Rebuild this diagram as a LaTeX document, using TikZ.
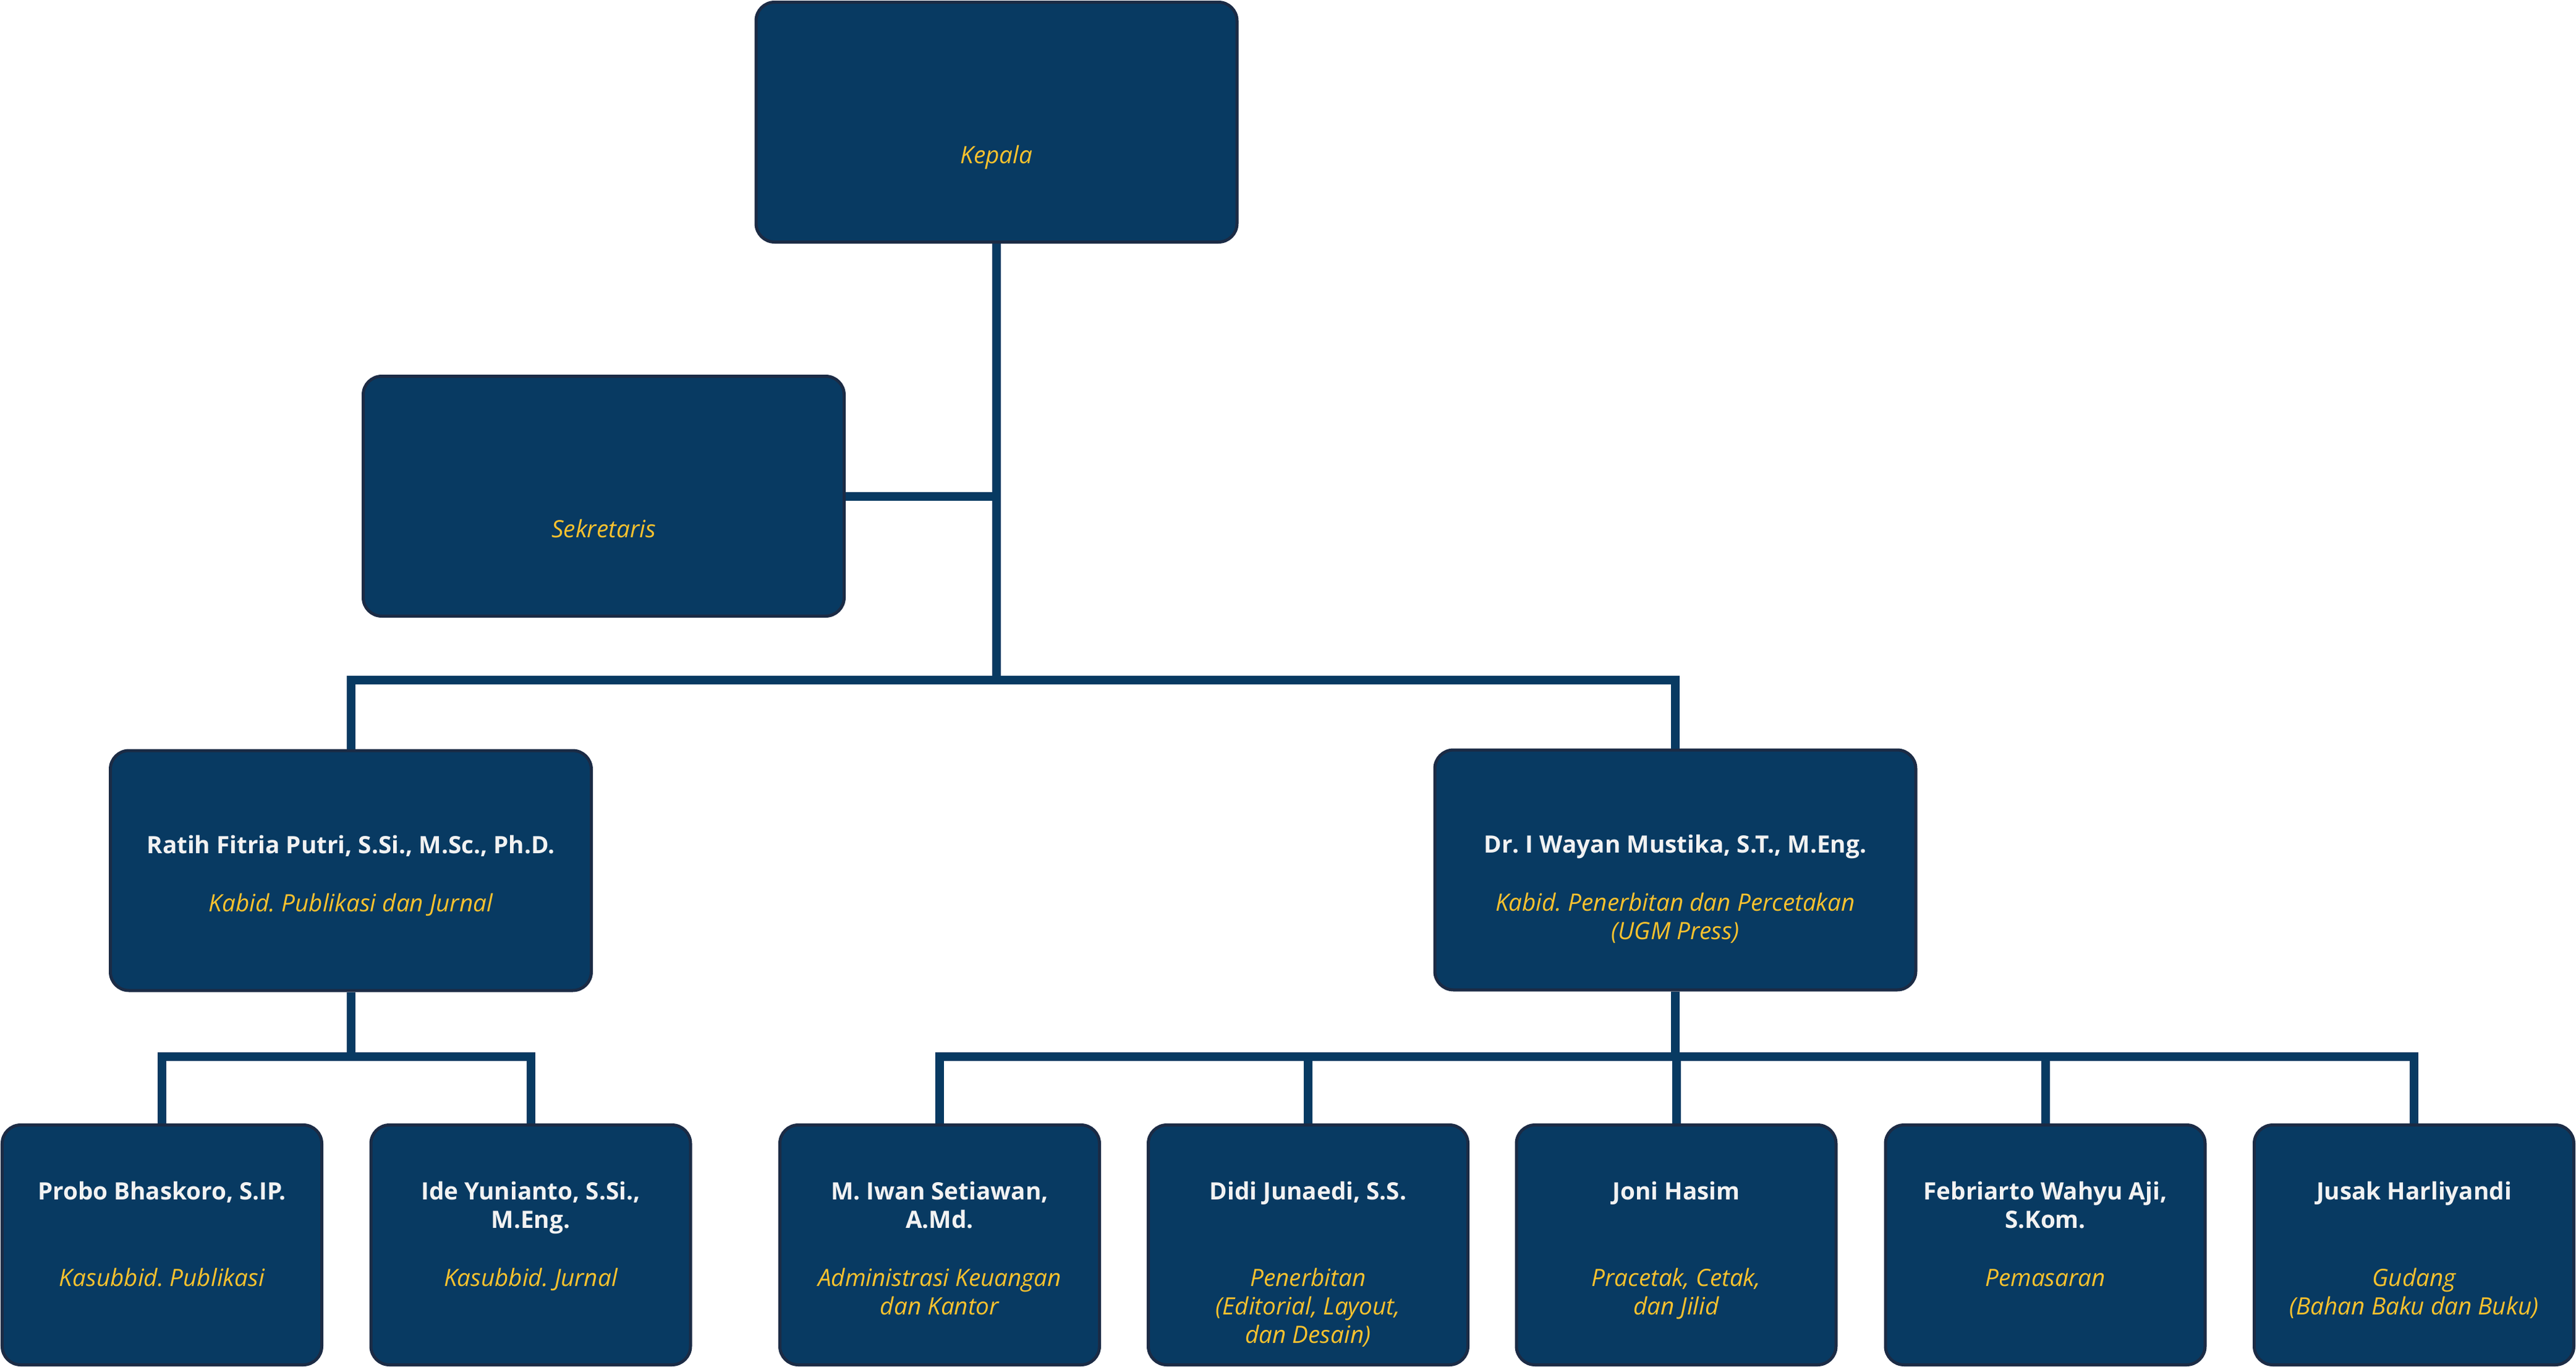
\documentclass[tikz,border=0pt]{standalone}
\usepackage{fontspec}
\setmainfont{Open Sans}
\usetikzlibrary{positioning}
\definecolor{ugmnavy}{HTML}{083A62}
\definecolor{boxedge}{HTML}{1B2B45}
\definecolor{ugmgold}{HTML}{F9C22E}
\definecolor{nametext}{HTML}{F2F2F2}
\newcommand{\lines}[1]{\begin{tabular}[t]{@{}c@{}}#1\end{tabular}}
\frenchspacing
\begin{document}
\begin{tikzpicture}[y=-1cm,
    unit/.style={draw=boxedge,fill=ugmnavy,line width=0.05cm,rounded corners=0.3cm,
      minimum width=7.78cm,minimum height=3.88cm},
    subunit/.style={unit,minimum width=5.17cm},
    person/.style={anchor=base,text=nametext,inner sep=0pt,
      font=\fontsize{11}{13.1}\selectfont\bfseries},
    role/.style={anchor=base,text=ugmgold,inner sep=0pt,
      font=\fontsize{11}{13.1}\selectfont\itshape},
    link/.style={draw=ugmnavy,line width=0.14cm}]
  \useasboundingbox (0,0) rectangle (41.67,22.11);

  \node[unit] (kepala) at (16.12,1.975) {};
  \node[unit] (sekretaris) at (9.765,8.025) {};
  \node[unit] (ratih) at (5.675,14.08) {};
  \node[unit] (wayan) at (27.10,14.07) {};

  \node[subunit] (probo) at ( 2.62,20.135) {};
  \node[subunit] (ide)   at ( 8.585,20.135) {};
  \node[subunit] (iwan)  at (15.20,20.135) {};
  \node[subunit] (didi)  at (21.16,20.135) {};
  \node[subunit] (joni)  at (27.115,20.135) {};
  \node[subunit] (febri) at (33.085,20.135) {};
  \node[subunit] (jusak) at (39.05,20.135) {};

  \coordinate (bar1) at (16.11,11.00);
  \coordinate (jointA) at (5.675,17.09);
  \coordinate (jointB) at (27.10,17.09);

  \draw[link] (kepala.south) -- (kepala.south |- bar1);
  \draw[link] (sekretaris.east) -- (sekretaris.east -| bar1);
  \draw[link] (ratih.north) |- (bar1) -| (wayan.north);
  \draw[link] (ratih) -- (jointA);
  \draw[link] (probo.north) |- (jointA) -| (ide.north);
  \draw[link] (wayan) -- (jointB);
  \draw[link] (iwan.north) |- (jointB) -| (jusak.north);
  \foreach \n in {didi,joni,febri}
    \draw[link] (\n.north) -- (\n.north |- jointB);

  \node[below=2.63cm of kepala.north,role] {Kepala};
  \node[below=2.63cm of sekretaris.north,role] {Sekretaris};

  \node[below=1.69cm of ratih.north,person] {Ratih Fitria Putri, S.Si., M.Sc., Ph.D.};
  \node[below=2.63cm of ratih.north,role] {Kabid. Publikasi dan Jurnal};
  \node[below=1.69cm of wayan.north,person] {Dr. I Wayan Mustika, S.T., M.Eng.};
  \node[below=2.63cm of wayan.north,role] {\lines{Kabid. Penerbitan dan Percetakan\\(UGM Press)}};

  \node[below=1.23cm of probo.north,person] {Probo Bhaskoro, S.IP.};
  \node[below=2.63cm of probo.north,role] {Kasubbid. Publikasi};
  \node[below=1.23cm of ide.north,person] {\lines{Ide Yunianto, S.Si.,\\M.Eng.}};
  \node[below=2.63cm of ide.north,role] {Kasubbid. Jurnal};
  \node[below=1.23cm of iwan.north,person] {\lines{M. Iwan Setiawan,\\A.Md.}};
  \node[below=2.63cm of iwan.north,role] {\lines{Administrasi Keuangan\\dan Kantor}};
  \node[below=1.23cm of didi.north,person] {Didi Junaedi, S.S.};
  \node[below=2.63cm of didi.north,role] {\lines{Penerbitan\\(Editorial, Layout,\\dan Desain)}};
  \node[below=1.23cm of joni.north,person] {Joni Hasim};
  \node[below=2.63cm of joni.north,role] {\lines{Pracetak, Cetak,\\dan Jilid}};
  \node[below=1.23cm of febri.north,person] {\lines{Febriarto Wahyu Aji,\\S.Kom.}};
  \node[below=2.63cm of febri.north,role] {Pemasaran};
  \node[below=1.23cm of jusak.north,person] {Jusak Harliyandi};
  \node[below=2.63cm of jusak.north,role] {\lines{Gudang\\(Bahan Baku dan Buku)}};
\end{tikzpicture}
\end{document}
